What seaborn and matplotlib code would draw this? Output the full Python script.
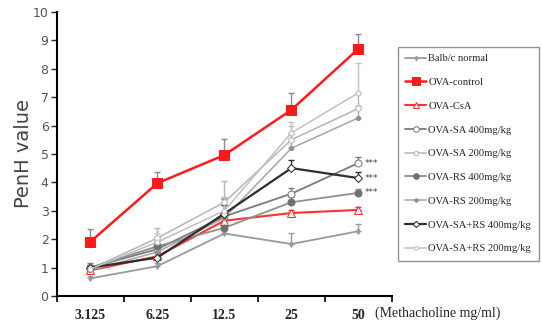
import seaborn as sns
import matplotlib.pyplot as plt
import numpy as np
import pandas as pd

doses = ['3.125', '6.25', '12.5', '25', '50']

labels = ['Balb/c normal', 'OVA-control', 'OVA-CsA', 'OVA-SA 400mg/kg', 'OVA-SA 200mg/kg',
          'OVA-RS 400mg/kg', 'OVA-RS 200mg/kg', 'OVA-SA+RS 400mg/kg', 'OVA-SA+RS 200mg/kg']

balb = [0.62, 1.05, 2.2, 1.83, 2.28]
ova_control = [1.91, 3.97, 4.96, 6.55, 8.7]
ova_csa = [0.9, 1.4, 2.65, 2.92, 3.03]
sa400 = [1.0, 1.65, 2.8, 3.6, 4.68]
sa200 = [0.95, 2.04, 3.3, 5.5, 6.6]
rs400 = [1.0, 1.75, 2.4, 3.3, 3.63]
rs200 = [0.9, 1.55, 2.75, 5.2, 6.27]
sars400 = [1.0, 1.35, 2.9, 4.5, 4.15]
sars200 = [0.95, 1.9, 3.0, 5.74, 7.15]

balb_err = [0.1, 0.1, 0.15, 0.37, 0.25]
control_err = [0.45, 0.4, 0.55, 0.6, 0.52]
csa_err = [0.1, 0.1, 0.15, 0.1, 0.1]
sa400_err = [0.15, 0.3, 0.6, 0.2, 0.2]
sa200_err = [0.1, 0.35, 0.75, 0.5, 0.5]
rs400_err = [0.1, 0.3, 0.3, 0.2, 0.15]
rs200_err = [0.1, 0.3, 0.7, 0.5, 0.4]
sars400_err = [0.1, 0.2, 0.3, 0.3, 0.2]
sars200_err = [0.1, 0.3, 0.5, 0.4, 1.05]

signif = ['***', '***', '***']
signif_vals = [sa400[-1], sars400[-1], rs400[-1]]

values = [balb, ova_control, ova_csa, sa400, sa200, rs400, rs200, sars400, sars200]
errors = [balb_err, control_err, csa_err, sa400_err, sa200_err, rs400_err, rs200_err, sars400_err, sars200_err]

# style per series: color, marker, markerfacecolor, markersize, linewidth
styles = [
    ('#9a9a9a', 'd', '#9a9a9a', 3, 1.3),
    ('#ff1a1a', 's', '#ff1a1a', 6.5, 1.8),
    ('#ff3030', '^', 'white', 5.5, 1.5),
    ('#7a7a7a', 'o', 'white', 5, 1.3),
    ('#b5b5b5', 'o', 'white', 4, 1.1),
    ('#8f8f8f', 'o', '#707070', 5, 1.3),
    ('#a5a5a5', 'o', '#909090', 3, 1.1),
    ('#2e2e2e', 'D', 'white', 4, 1.6),
    ('#c0c0c0', 'o', 'white', 3.5, 1.1),
]

data = pd.DataFrame({
    'Group': np.repeat(labels, len(doses)),
    'pos': np.tile(np.arange(len(doses)), len(labels)),
    'PenH': np.concatenate(values),
    'err': np.concatenate(errors),
})

sns.set_style('ticks')
fig = plt.figure(figsize=(5.42, 3.24), dpi=100)
ax = fig.add_axes([0.105, 0.0864, 0.618, 0.877])

for i, lab in enumerate(labels):
    sub = data[data['Group'] == lab]
    color, marker, mfc, ms, lw = styles[i]
    ax.errorbar(sub['pos'], sub['PenH'], yerr=[np.zeros(len(sub)), sub['err']], fmt='none',
                ecolor=color if i != 1 else '#888888', elinewidth=1, capsize=2, capthick=1, zorder=2)
    sns.lineplot(data=sub, x='pos', y='PenH', ax=ax, color=color, marker=marker,
                 markerfacecolor=mfc, markeredgecolor=color if mfc == 'white' else mfc,
                 markersize=ms, linewidth=lw, label=lab, zorder=3 if i != 1 else 4)

for s, v in zip(signif, signif_vals):
    ax.text(len(doses) - 1 + 0.1, v, s, fontsize=6.5, color='#444444', va='center', ha='left')

ax.set_xlim(-0.5, len(doses) - 0.5)
ax.set_ylim(0, 10)
ax.set_xticks(np.arange(-0.5, len(doses), 1.0))
ax.set_xticklabels([])
ax.set_xticks(np.arange(len(doses)), minor=True)
ax.set_xticklabels(doses, minor=True, fontfamily='Liberation Serif', fontweight='bold', fontsize=10)
ax.tick_params(axis='x', which='minor', length=0, pad=9)
ax.tick_params(axis='x', which='major', length=4, width=1.2, direction='out', colors='black')
ax.set_yticks(range(0, 11))
ax.tick_params(axis='y', length=4, width=1, labelsize=9, labelcolor='#555555', pad=2)
for lbl in ax.get_yticklabels():
    lbl.set_fontfamily('Liberation Sans Narrow')
ax.set_xlabel('')
ax.set_ylabel('PenH value', fontsize=14, color='#444444', fontfamily='DejaVu Sans', labelpad=0)
sns.despine(ax=ax)
for sp in ['left', 'bottom']:
    ax.spines[sp].set_linewidth(1.5)
    ax.spines[sp].set_color('black')

handles, lbls = ax.get_legend_handles_labels()
ax.get_legend().remove()
leg = fig.legend(handles, lbls, loc='upper left', bbox_to_anchor=(0.734, 0.856),
                 prop={'family': 'Liberation Serif', 'size': 7.6}, frameon=True, fancybox=False,
                 edgecolor='#777777', labelspacing=1.36, handlelength=2.0, handletextpad=0.2,
                 borderpad=0.7, borderaxespad=0, markerscale=0.8)
leg.get_frame().set_linewidth(1.0)

fig.text(375 / 542, 1 - 313 / 324, '(Methacholine mg/ml)', fontfamily='Liberation Serif',
         fontsize=10, va='center', ha='left')

fig.savefig('out.png', dpi=100)
